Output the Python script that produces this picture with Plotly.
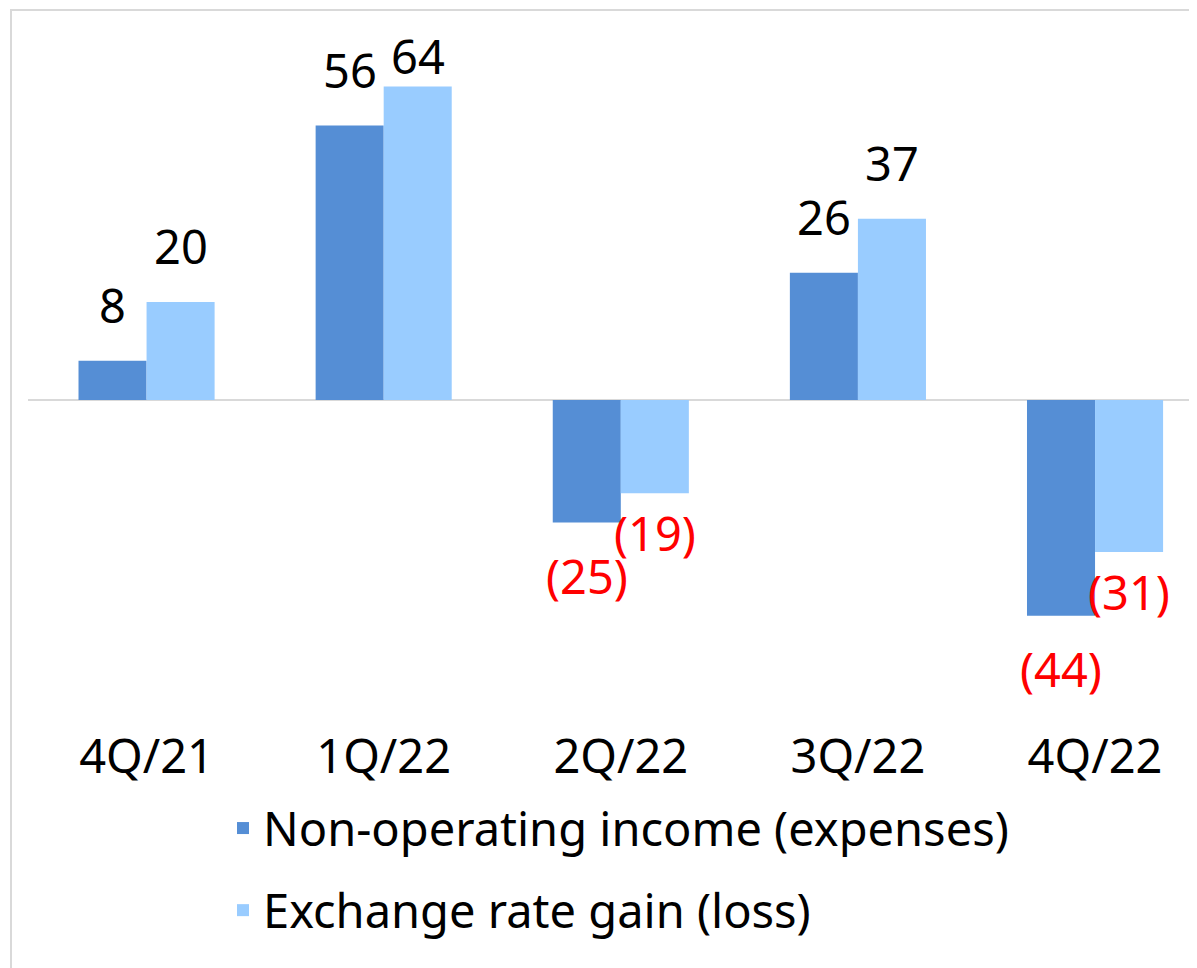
import plotly.graph_objects as go

categories = ["4Q/21", "1Q/22", "2Q/22", "3Q/22", "4Q/22"]
non_operating = [8, 56, -25, 26, -44]
exchange_rate = [20, 64, -19, 37, -31]
series_names = ["Non-operating income (expenses)", "Exchange rate gain (loss)"]

DARK = "#558ED5"
LIGHT = "#99CCFF"
FONT = "Noto Sans"
FS = 47

# page body has an 8px margin in the browser
W, H = 1189, 960
ML, MR, MT, MB = 20, 0, 12, 243
Y_RANGE = [-66.3, 77.55]

plot_h = H - MT - MB
plot_w = W - ML - MR
px_per_unit = plot_h / (Y_RANGE[1] - Y_RANGE[0])
POS_SHIFT = 22
LABEL_H = FS * 1.3

fig = go.Figure()
fig.add_trace(go.Bar(x=categories, y=non_operating, name=series_names[0],
                     marker=dict(color=DARK, line=dict(width=0)), legendgroup="a"))
fig.add_trace(go.Bar(x=categories, y=exchange_rate, name=series_names[1],
                     marker=dict(color=LIGHT, line=dict(width=0)), legendgroup="b"))

def fmt(v):
    return str(v) if v >= 0 else "(" + str(-v) + ")"

ann = []
for vals, xs, neg_shift in ((non_operating, -34, -19), (exchange_rate, 34, -6)):
    for c, v in zip(categories, vals):
        if v >= 0:
            top_needed = v + (POS_SHIFT + LABEL_H) / px_per_unit
            if top_needed > Y_RANGE[1]:
                # keep the label inside the plot area (as the spreadsheet does)
                ann.append(dict(x=c, y=Y_RANGE[1], xref="x", yref="y", text=fmt(v),
                                showarrow=False, xshift=xs, yshift=-2, yanchor="top",
                                font=dict(family=FONT, size=FS, color="#000000")))
            else:
                ann.append(dict(x=c, y=v, xref="x", yref="y", text=fmt(v), showarrow=False,
                                xshift=xs, yshift=POS_SHIFT, yanchor="bottom",
                                font=dict(family=FONT, size=FS, color="#000000")))
        else:
            ann.append(dict(x=c, y=v, xref="x", yref="y", text=fmt(v), showarrow=False,
                            xshift=xs, yshift=neg_shift, yanchor="top",
                            font=dict(family=FONT, size=FS, color="#FF0000")))

fig.update_layout(
    width=W, height=H,
    margin=dict(l=ML, r=MR, t=MT, b=MB, pad=0),
    paper_bgcolor="white", plot_bgcolor="white",
    barmode="group", bargap=0.426, bargroupgap=0,
    font=dict(family=FONT, size=FS, color="#000000"),
    annotations=ann,
    showlegend=True,
    legend=dict(orientation="v", x=(215 - ML) / plot_w, xanchor="left",
                y=-(783 - (H - MB)) / plot_h, yanchor="top",
                font=dict(family=FONT, size=FS, color="#000000"),
                tracegroupgap=18, bgcolor="rgba(0,0,0,0)", traceorder="grouped"),
    xaxis=dict(range=[-0.5, 4.43], showgrid=False, zeroline=False, showline=False,
               ticks="", ticklen=0,
               tickfont=dict(family=FONT, size=FS, color="#000000")),
    yaxis=dict(range=Y_RANGE, showgrid=False, showticklabels=False,
               zeroline=True, zerolinecolor="#D9D9D9", zerolinewidth=2, showline=False),
    shapes=[dict(type="rect", xref="paper", yref="paper",
                 x0=(3 - ML) / plot_w, x1=1.1,
                 y0=-0.5, y1=((H - MB) - 2) / plot_h,
                 line=dict(color="#D9D9D9", width=2), fillcolor="rgba(0,0,0,0)", layer="below")],
)

fig.write_html("out.html")
